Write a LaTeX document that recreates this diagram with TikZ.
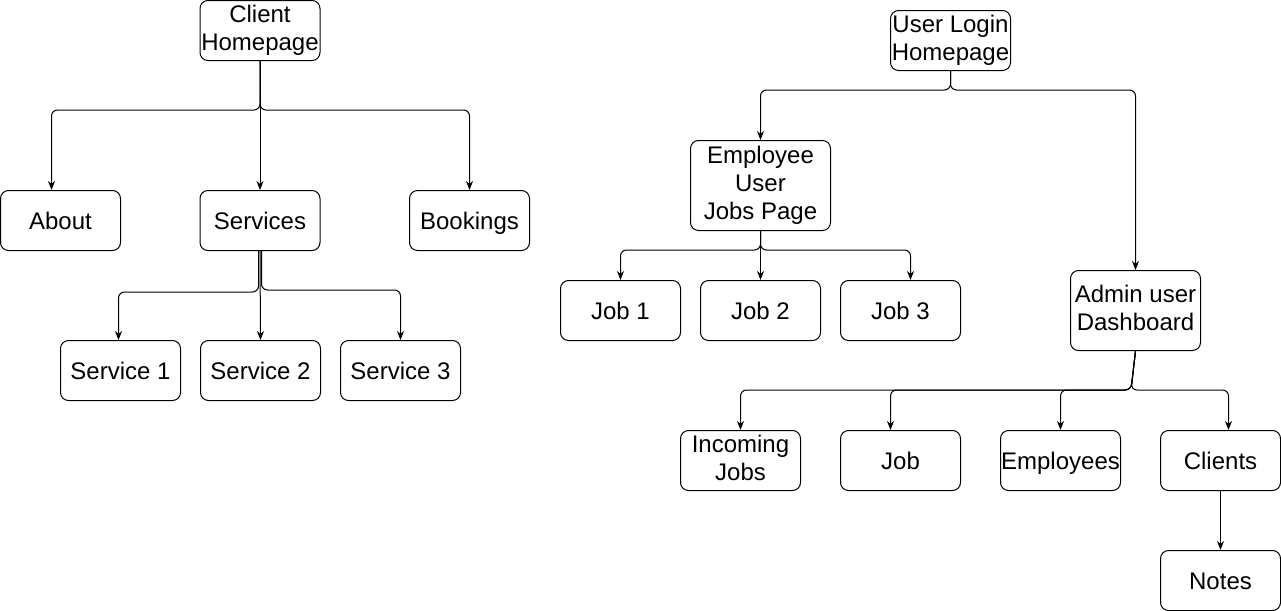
\documentclass[tikz,border=0pt]{standalone}
\usepackage{fontspec}
\setmainfont{Liberation Sans}
\usetikzlibrary{arrows.meta}

\newcommand{\pagestrut}{\rule[-2.4pt]{0pt}{13.4pt}}

\begin{document}
\begin{tikzpicture}[x=0.5pt,y=-0.5pt,
	page/.style={draw, rounded corners=4pt, line width=0.5pt, minimum width=60pt, minimum height=30pt, align=center, inner sep=0pt, font=\fontsize{12}{14}\selectfont, execute at begin node=\pagestrut, execute at end node=\pagestrut},
	link/.style={-{Stealth[length=4.5pt,width=3.5pt]}, line width=0.5pt, rounded corners=3pt}]

	\useasboundingbox (0,0) rectangle (1281,611);

	% client side
	\node[page] (client) at (260,30.5) {Client\\Homepage};
	\node[page] (about) at (60.5,220.5) {About};
	\node[page] (services) at (260,220.5) {Services};
	\node[page] (bookings) at (469.5,220.5) {Bookings};
	\node[page] (serv1) at (120.5,370.5) {Service 1};
	\node[page] (serv2) at (260.5,370.5) {Service 2};
	\node[page] (serv3) at (400.5,370.5) {Service 3};

	\draw[link] (client.south) -- (260,110) -| ([xshift=-4.5pt]about.north);
	\draw[link] (client.south) -- (services.north);
	\draw[link] (client.south) -- (260,110) -| (bookings.north);

	\draw[link] ([xshift=-0.75pt]services.south) -- (258.5,292) -| ([xshift=-1pt]serv1.north);
	\draw[link] (services.south) -- (serv2.north);
	\draw[link] ([xshift=0.75pt]services.south) -- (261.5,290) -| (serv3.north);

	% user side
	\node[page] (login) at (950.5,40.5) {User Login\\Homepage};
	\node[page, minimum width=70pt, minimum height=45pt] (empl) at (760.5,185.5) {Employee\\User\\Jobs Page};
	\node[page] (job1) at (620.5,310.5) {Job 1};
	\node[page] (job2) at (760.5,310.5) {Job 2};
	\node[page] (job3) at (900.5,310.5) {Job 3};
	\node[page, minimum width=65pt, minimum height=40pt] (admin) at (1135.5,310.5) {Admin user\\Dashboard};
	\node[page] (incoming) at (740.5,460.5) {Incoming\\Jobs};
	\node[page] (job) at (900.5,460.5) {Job};
	\node[page] (staff) at (1060.5,460.5) {Employees};
	\node[page] (clients) at (1220.5,460.5) {Clients};
	\node[page] (notes) at (1220.5,580.5) {Notes};

	\draw[link] (login.south) -- (950.5,90) -| (empl.north);
	\draw[link] (login.south) -- (950.5,90) -| (admin.north);

	\draw[link] (empl.south) -- (760.5,250) -| (job1.north);
	\draw[link] (empl.south) -- (job2.north);
	\draw[link] (empl.south) -- (760.5,250) -| ([xshift=5pt]job3.north);

	\draw[link] (admin.south) -- (1131,390) -| (incoming.north);
	\draw[link] (admin.south) -- (1131,390) -| ([xshift=-5pt]job.north);
	\draw[link] (admin.south) -- (1131,390) -| (staff.north);
	\draw[link] (admin.south) -- (1131,390) -| ([xshift=4pt]clients.north);

	\draw[link] (clients.south) -- (notes.north);

\end{tikzpicture}
\end{document}
